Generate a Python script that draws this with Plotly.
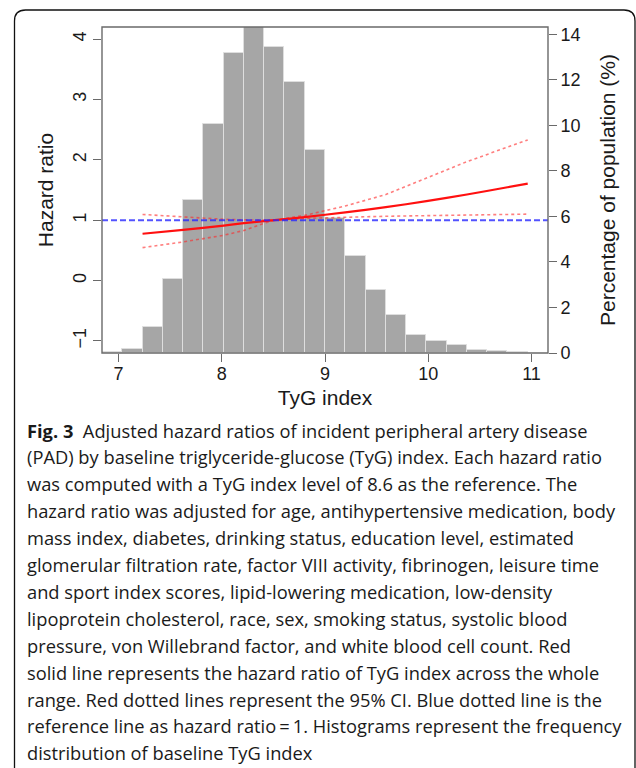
import plotly.graph_objects as go

# ---------------- data ----------------
BIN_CENTERS = [6.9, 7.1, 7.3, 7.5, 7.7, 7.9, 8.1, 8.3, 8.5, 8.7, 8.9,
               9.1, 9.3, 9.5, 9.7, 9.9, 10.1, 10.3, 10.5, 10.7, 10.9]
HIST_PCT = [0.03, 0.18, 1.15, 3.25, 6.74, 10.04, 13.16, 14.3, 13.45, 11.9, 8.92,
            5.95, 4.24, 2.78, 1.67, 0.80, 0.53, 0.33, 0.13, 0.09, 0.03]
BIN_WIDTH = 0.2

TYG_X = [7.2, 7.6, 8.0, 8.2, 8.4, 8.5, 8.8, 9.2, 9.6, 10.0, 10.4, 10.8, 11.0]
HR = [0.775, 0.84, 0.91, 0.95, 0.985, 1.0, 1.05, 1.13, 1.215, 1.315, 1.425, 1.545, 1.605]
HR_UPPER = [1.095, 1.05, 1.015, 1.005, 1.0, 1.0, 1.08, 1.235, 1.425, 1.70, 1.97, 2.21, 2.33]
HR_LOWER = [0.545, 0.64, 0.75, 0.83, 0.95, 1.0, 1.03, 1.05, 1.065, 1.075, 1.085, 1.095, 1.10]
REF_HR = 1

X_TICKS = [7, 8, 9, 10, 11]
HR_TICKS = [-1, 0, 1, 2, 3, 4]
PCT_TICKS = [0, 2, 4, 6, 8, 10, 12, 14]

CAPTION = [
    "<b>Fig. 3</b>  Adjusted hazard ratios of incident peripheral artery disease",
    "(PAD) by baseline triglyceride-glucose (TyG) index. Each hazard ratio",
    "was computed with a TyG index level of 8.6 as the reference. The",
    "hazard ratio was adjusted for age, antihypertensive medication, body",
    "mass index, diabetes, drinking status, education level, estimated",
    "glomerular filtration rate, factor VIII activity, fibrinogen, leisure time",
    "and sport index scores, lipid-lowering medication, low-density",
    "lipoprotein cholesterol, race, sex, smoking status, systolic blood",
    "pressure, von Willebrand factor, and white blood cell count. Red",
    "solid line represents the hazard ratio of TyG index across the whole",
    "range. Red dotted lines represent the 95% CI. Blue dotted line is the",
    "reference line as hazard ratio\u2009=\u20091. Histograms represent the frequency",
    "distribution of baseline TyG index",
]

# ---------------- layout geometry (pixels) ----------------
W, H = 636, 768
L, R, T, B = 102, 548, 27, 353
PW, PH = R - L, B - T


def px(xp):
    return (xp - L) / PW


def py(yp):
    return (B - yp) / PH


AXC = "#6a6a6a"
TXT = "#1a1a1a"
CHART_FONT = "Liberation Sans, Arial, sans-serif"

fig = go.Figure()

# histogram (x: hidden histogram scale, y: percentage on right)
fig.add_trace(go.Bar(
    x=BIN_CENTERS, y=HIST_PCT, width=BIN_WIDTH,
    marker=dict(color="#a6a6a6", line=dict(color="#dedede", width=1)),
    xaxis="x", yaxis="y", showlegend=False, hoverinfo="skip",
))

# hazard ratio lines
dash_red = dict(color="rgba(255,40,40,0.6)", width=1.6, dash="3px,3px")
fig.add_trace(go.Scatter(x=TYG_X, y=HR_UPPER, mode="lines", line=dash_red,
                         xaxis="x", yaxis="y2", showlegend=False))
fig.add_trace(go.Scatter(x=TYG_X, y=HR_LOWER, mode="lines", line=dash_red,
                         xaxis="x", yaxis="y2", showlegend=False))
fig.add_trace(go.Scatter(x=TYG_X, y=HR, mode="lines",
                         line=dict(color="#ff1010", width=2.2, shape="spline", smoothing=0.6),
                         xaxis="x", yaxis="y2", showlegend=False))

# reference line HR = 1
fig.add_shape(type="line", xref="paper", x0=0, x1=1, yref="y2", y0=REF_HR, y1=REF_HR,
              line=dict(color="rgba(40,40,255,0.8)", width=2, dash="6px,3px"), layer="above")

# plot box
fig.add_shape(type="rect", xref="paper", yref="paper", x0=0, x1=1, y0=0, y1=1,
              line=dict(color=AXC, width=1.4), layer="above")

# outer rounded frame
r = 11
path = (f"M {px(14.5)} {py(775)} L {px(14.5)} {py(10 + r)} "
        f"Q {px(14.5)} {py(10)} {px(14.5 + r)} {py(10)} "
        f"L {px(635 - r)} {py(10)} Q {px(635)} {py(10)} {px(635)} {py(10 + r)} "
        f"L {px(635)} {py(775)}")
fig.add_shape(type="path", path=path, xref="paper", yref="paper",
              line=dict(color="#111111", width=1.3))

# caption
for i, line in enumerate(CAPTION):
    fig.add_annotation(
        text=line, xref="paper", yref="paper", x=px(25), y=py(430 + 26.9 * i),
        xanchor="left", yanchor="middle", showarrow=False, align="left",
        font=dict(family="Open Sans, sans-serif", size=18.3, color="#1a1a1a"),
    )

fig.update_layout(
    width=W, height=H,
    margin=dict(l=L, r=W - R, t=T, b=H - B, pad=0),
    paper_bgcolor="white", plot_bgcolor="white",
    font=dict(family=CHART_FONT, color=TXT, size=18),
    bargap=0,
    xaxis=dict(range=[6.8, 11.2], visible=False, fixedrange=True),
    xaxis2=dict(
        range=[6.84, 11.16], overlaying="x", side="bottom", anchor="y",
        tickmode="array", tickvals=X_TICKS, ticks="outside", ticklen=8,
        tickwidth=1.3, tickcolor=AXC, showgrid=False, zeroline=False, showline=False,
        tickfont=dict(size=18, color=TXT), ticklabelstandoff=-4,
        title=dict(text="TyG index", font=dict(size=21, color=TXT), standoff=7),
    ),
    yaxis=dict(
        range=[0, 14.32], side="right", anchor="x",
        tickmode="array", tickvals=PCT_TICKS, ticks="outside", ticklen=8,
        tickwidth=1.3, tickcolor=AXC, showgrid=False, zeroline=False, showline=False,
        tickfont=dict(size=18, color=TXT),
        title=dict(text="Percentage of population (%)", font=dict(size=21, color=TXT),
                   standoff=20),
    ),
    yaxis2=dict(
        range=[-1.2, 4.2], overlaying="y", side="left", anchor="x",
        tickmode="array", tickvals=HR_TICKS, ticktext=["\u22121", "0", "1", "2", "3", "4"],
        ticks="outside", ticklen=8, tickangle=-90,
        tickwidth=1.3, tickcolor=AXC, showgrid=False, zeroline=False, showline=False,
        tickfont=dict(size=18, color=TXT),
        title=dict(text="Hazard ratio", font=dict(size=21, color=TXT), standoff=10),
    ),
)

# the visible x-axis ticks need a trace on xaxis2 to be drawn
fig.add_trace(go.Scatter(x=[X_TICKS[0], X_TICKS[-1]], y=[None, None], mode="lines",
                         xaxis="x2", yaxis="y2", showlegend=False, hoverinfo="skip"))

fig.write_html("out.html", config={"displayModeBar": False},
               post_script="document.body.style.margin='0';document.body.style.padding='0';")
